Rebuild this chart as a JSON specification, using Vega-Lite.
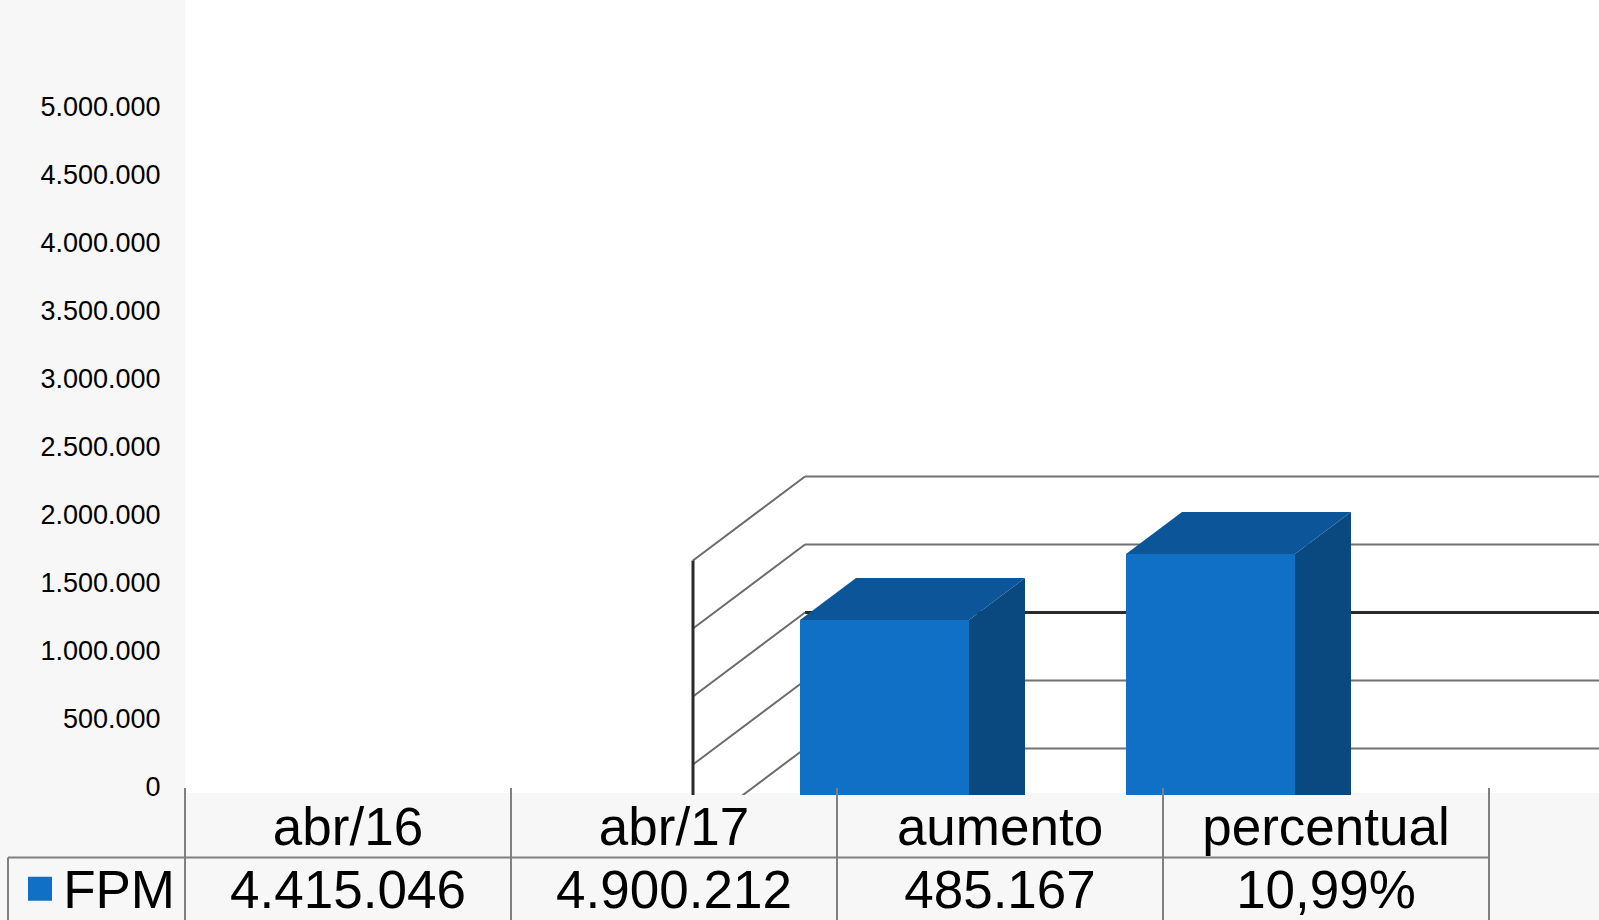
{
  "$schema": "https://vega.github.io/schema/vega-lite/v6.json",
  "width": 1414,
  "height": 920,
  "autosize": {"type": "none"},
  "padding": {"left": 185, "top": 0, "right": 0, "bottom": 0},
  "background": "#f7f7f7",
  "config": {
    "view": {"stroke": null},
    "font": "Liberation Sans",
    "locale": {"number": {"decimal": ",", "thousands": ".", "grouping": [3], "currency": ["R$", ""]}}
  },
  "datasets": {
    "fpm": [
      {"periodo": "abr/16", "valor": 4415046, "rotulo": "4.415.046"},
      {"periodo": "abr/17", "valor": 4900212, "rotulo": "4.900.212"},
      {"periodo": "aumento", "valor": 485167, "rotulo": "485.167"},
      {"periodo": "percentual", "valor": 0.1099, "rotulo": "10,99%"}
    ],
    "grade": [
      {"v": 0}, {"v": 500000}, {"v": 1000000}, {"v": 1500000}, {"v": 2000000}, {"v": 2500000},
      {"v": 3000000}, {"v": 3500000}, {"v": 4000000}, {"v": 4500000}, {"v": 5000000}
    ],
    "parede": [
      {"v": 3000000}, {"v": 3500000}, {"v": 4000000}, {"v": 4500000}, {"v": 5000000}
    ]
  },
  "resolve": {"scale": {"x": "independent", "y": "independent"}},
  "layer": [
    {
      "layer": [
        {
          "data": {"values": [{}]},
          "mark": {"type": "rect", "color": "#ffffff"},
          "encoding": {
            "y": {"datum": 5786765, "type": "quantitative", "scale": {"domain": [-977941, 5786765], "nice": false, "zero": false}},
            "y2": {"datum": -44118}
          }
        },
        {
          "data": {"name": "grade"},
          "mark": {"type": "rule", "strokeOpacity": 0},
          "encoding": {
            "y": {
              "field": "v", "type": "quantitative",
              "scale": {"domain": [-977941, 5786765], "nice": false, "zero": false},
              "axis": {
                "orient": "left", "title": null, "domain": false, "ticks": false, "grid": false,
                "values": [0, 500000, 1000000, 1500000, 2000000, 2500000, 3000000, 3500000, 4000000, 4500000, 5000000],
                "format": ",.0f", "labelFont": "Liberation Sans", "labelFontSize": 27, "labelColor": "#000000",
                "labelPadding": 25, "labelOverlap": false, "labelBound": false
              }
            }
          }
        }
      ]
    },
    {
      "layer": [
        {
          "data": {"name": "parede"},
          "mark": {"type": "rule", "xOffset": 5, "yOffset": -64},
          "encoding": {
            "x": {"datum": "abr/16", "type": "nominal", "bandPosition": 0, "scale": {"type": "band", "domain": ["abr/16", "abr/17"], "range": [615, 1110], "paddingInner": 0.4816, "paddingOuter": 0}, "axis": null},
            "x2": {"value": "width"},
            "y": {"field": "v", "type": "quantitative", "scale": {"domain": [2209059, 8973765], "nice": false, "zero": false}, "axis": null},
            "color": {"condition": {"test": "datum.v === 4000000", "value": "#2b2b2b"}, "value": "#737373"},
            "strokeWidth": {"condition": {"test": "datum.v === 4000000", "value": 3}, "value": 2}
          }
        },
        {
          "data": {"name": "parede"},
          "mark": {"type": "rule", "xOffset": -107, "x2Offset": 5, "yOffset": 20, "y2Offset": -64, "color": "#6b6b6b", "strokeWidth": 2},
          "encoding": {
            "x": {"datum": "abr/16", "type": "nominal", "bandPosition": 0, "scale": {"type": "band", "domain": ["abr/16", "abr/17"], "range": [615, 1110], "paddingInner": 0.4816, "paddingOuter": 0}, "axis": null},
            "x2": {"datum": "abr/16", "bandPosition": 0},
            "y": {"field": "v", "type": "quantitative", "scale": {"domain": [2209059, 8973765], "nice": false, "zero": false}, "axis": null},
            "y2": {"field": "v"}
          }
        },
        {
          "data": {"values": [{"v": 5000000}]},
          "mark": {"type": "rule", "xOffset": -107, "yOffset": 20, "color": "#2b2b2b", "strokeWidth": 3},
          "encoding": {
            "x": {"datum": "abr/16", "type": "nominal", "bandPosition": 0, "scale": {"type": "band", "domain": ["abr/16", "abr/17"], "range": [615, 1110], "paddingInner": 0.4816, "paddingOuter": 0}, "axis": null},
            "y": {"field": "v", "type": "quantitative", "scale": {"domain": [2209059, 8973765], "nice": false, "zero": false}, "axis": null},
            "y2": {"datum": 2209059}
          }
        },
        {
          "data": {"name": "fpm"},
          "transform": [{"filter": "datum.valor > 1000000"}],
          "mark": {"type": "point", "shape": "M0,0 L56,-42 L56,400 L0,400 Z", "size": 4, "filled": true, "opacity": 1, "color": "#0A4880", "strokeWidth": 0},
          "encoding": {
            "x": {"field": "periodo", "type": "nominal", "bandPosition": 1, "scale": {"type": "band", "domain": ["abr/16", "abr/17"], "range": [615, 1110], "paddingInner": 0.4816, "paddingOuter": 0}, "axis": null},
            "y": {"field": "valor", "type": "quantitative", "scale": {"domain": [2209059, 8973765], "nice": false, "zero": false}, "axis": null}
          }
        },
        {
          "data": {"name": "fpm"},
          "transform": [{"filter": "datum.valor > 1000000"}],
          "mark": {"type": "point", "shape": "M0,0 L169,0 L225,-42 L56,-42 Z", "size": 4, "filled": true, "opacity": 1, "color": "#0B5598", "strokeWidth": 0},
          "encoding": {
            "x": {"field": "periodo", "type": "nominal", "bandPosition": 0, "scale": {"type": "band", "domain": ["abr/16", "abr/17"], "range": [615, 1110], "paddingInner": 0.4816, "paddingOuter": 0}, "axis": null},
            "y": {"field": "valor", "type": "quantitative", "scale": {"domain": [2209059, 8973765], "nice": false, "zero": false}, "axis": null}
          }
        },
        {
          "data": {"name": "fpm"},
          "transform": [{"filter": "datum.valor > 1000000"}],
          "mark": {"type": "bar", "color": "#0F70C5"},
          "encoding": {
            "x": {"field": "periodo", "type": "nominal", "scale": {"type": "band", "domain": ["abr/16", "abr/17"], "range": [615, 1110], "paddingInner": 0.4816, "paddingOuter": 0}, "axis": null},
            "y": {"field": "valor", "type": "quantitative", "scale": {"domain": [2209059, 8973765], "nice": false, "zero": false}, "axis": null},
            "y2": {"datum": 2209059}
          }
        }
      ]
    },
    {
      "layer": [
        {
          "data": {"values": [{}]},
          "mark": {"type": "rect", "color": "#f7f7f7"},
          "encoding": {
            "y": {"datum": "cabecalho", "type": "nominal", "bandPosition": 0, "scale": {"type": "band", "domain": ["cabecalho", "FPM"], "range": [795, 920], "paddingInner": 0, "paddingOuter": 0}, "axis": null},
            "y2": {"value": "height"}
          }
        },
        {
          "data": {"name": "fpm"},
          "mark": {"type": "rule", "yOffset": -7, "color": "#808080", "strokeWidth": 2},
          "encoding": {
            "x": {"field": "periodo", "type": "nominal", "bandPosition": 0, "scale": {"type": "band", "domain": ["abr/16", "abr/17", "aumento", "percentual"], "range": [0, 1304], "paddingInner": 0, "paddingOuter": 0}, "axis": null},
            "y": {"datum": "cabecalho", "type": "nominal", "bandPosition": 0, "scale": {"type": "band", "domain": ["cabecalho", "FPM"], "range": [795, 920], "paddingInner": 0, "paddingOuter": 0}, "axis": null},
            "y2": {"value": "height"}
          }
        },
        {
          "data": {"values": [{}]},
          "mark": {"type": "rule", "yOffset": -7, "color": "#808080", "strokeWidth": 2},
          "encoding": {
            "x": {"datum": "percentual", "type": "nominal", "bandPosition": 1, "scale": {"type": "band", "domain": ["abr/16", "abr/17", "aumento", "percentual"], "range": [0, 1304], "paddingInner": 0, "paddingOuter": 0}, "axis": null},
            "y": {"datum": "cabecalho", "type": "nominal", "bandPosition": 0, "scale": {"type": "band", "domain": ["cabecalho", "FPM"], "range": [795, 920], "paddingInner": 0, "paddingOuter": 0}, "axis": null},
            "y2": {"value": "height"}
          }
        },
        {
          "data": {"values": [{}]},
          "mark": {"type": "rule", "xOffset": -177, "color": "#808080", "strokeWidth": 2},
          "encoding": {
            "x": {"datum": "abr/16", "type": "nominal", "bandPosition": 0, "scale": {"type": "band", "domain": ["abr/16", "abr/17", "aumento", "percentual"], "range": [0, 1304], "paddingInner": 0, "paddingOuter": 0}, "axis": null},
            "x2": {"datum": "percentual", "bandPosition": 1},
            "y": {"datum": "FPM", "type": "nominal", "bandPosition": 0, "scale": {"type": "band", "domain": ["cabecalho", "FPM"], "range": [795, 920], "paddingInner": 0, "paddingOuter": 0}, "axis": null}
          }
        },
        {
          "data": {"values": [{}]},
          "mark": {"type": "rule", "xOffset": -177, "color": "#808080", "strokeWidth": 2},
          "encoding": {
            "x": {"datum": "abr/16", "type": "nominal", "bandPosition": 0, "scale": {"type": "band", "domain": ["abr/16", "abr/17", "aumento", "percentual"], "range": [0, 1304], "paddingInner": 0, "paddingOuter": 0}, "axis": null},
            "y": {"datum": "FPM", "type": "nominal", "bandPosition": 0, "scale": {"type": "band", "domain": ["cabecalho", "FPM"], "range": [795, 920], "paddingInner": 0, "paddingOuter": 0}, "axis": null},
            "y2": {"value": "height"}
          }
        },
        {
          "data": {"name": "fpm"},
          "mark": {"type": "text", "font": "Liberation Sans", "fontSize": 53, "color": "#000000", "baseline": "middle", "align": "center", "yOffset": 3},
          "encoding": {
            "x": {"field": "periodo", "type": "nominal", "scale": {"type": "band", "domain": ["abr/16", "abr/17", "aumento", "percentual"], "range": [0, 1304], "paddingInner": 0, "paddingOuter": 0}, "axis": null},
            "y": {"datum": "cabecalho", "type": "nominal", "scale": {"type": "band", "domain": ["cabecalho", "FPM"], "range": [795, 920], "paddingInner": 0, "paddingOuter": 0}, "axis": null},
            "text": {"field": "periodo"}
          }
        },
        {
          "data": {"name": "fpm"},
          "mark": {"type": "text", "font": "Liberation Sans", "fontSize": 53, "color": "#000000", "baseline": "middle", "align": "center", "yOffset": 3},
          "encoding": {
            "x": {"field": "periodo", "type": "nominal", "scale": {"type": "band", "domain": ["abr/16", "abr/17", "aumento", "percentual"], "range": [0, 1304], "paddingInner": 0, "paddingOuter": 0}, "axis": null},
            "y": {"datum": "FPM", "type": "nominal", "scale": {"type": "band", "domain": ["cabecalho", "FPM"], "range": [795, 920], "paddingInner": 0, "paddingOuter": 0}, "axis": null},
            "text": {"field": "rotulo"}
          }
        },
        {
          "data": {"values": [{}]},
          "mark": {"type": "text", "font": "Liberation Sans", "fontSize": 53, "color": "#000000", "baseline": "middle", "align": "right", "xOffset": -10, "yOffset": 3},
          "encoding": {
            "x": {"datum": "abr/16", "type": "nominal", "bandPosition": 0, "scale": {"type": "band", "domain": ["abr/16", "abr/17", "aumento", "percentual"], "range": [0, 1304], "paddingInner": 0, "paddingOuter": 0}, "axis": null},
            "y": {"datum": "FPM", "type": "nominal", "scale": {"type": "band", "domain": ["cabecalho", "FPM"], "range": [795, 920], "paddingInner": 0, "paddingOuter": 0}, "axis": null},
            "text": {"value": "FPM"}
          }
        },
        {
          "data": {"values": [{}]},
          "mark": {"type": "point", "shape": "square", "size": 576, "filled": true, "opacity": 1, "color": "#1070C6", "strokeWidth": 0, "xOffset": -145},
          "encoding": {
            "x": {"datum": "abr/16", "type": "nominal", "bandPosition": 0, "scale": {"type": "band", "domain": ["abr/16", "abr/17", "aumento", "percentual"], "range": [0, 1304], "paddingInner": 0, "paddingOuter": 0}, "axis": null},
            "y": {"datum": "FPM", "type": "nominal", "scale": {"type": "band", "domain": ["cabecalho", "FPM"], "range": [795, 920], "paddingInner": 0, "paddingOuter": 0}, "axis": null}
          }
        }
      ]
    }
  ]
}
